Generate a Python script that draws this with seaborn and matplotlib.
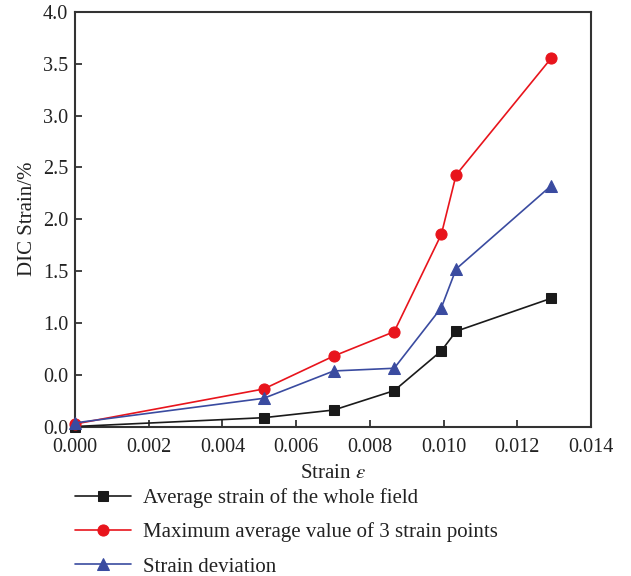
import matplotlib
matplotlib.use("Agg")
import matplotlib.pyplot as plt
import seaborn as sns
import pandas as pd

strain = [0.0, 0.00512, 0.00702, 0.00866, 0.00994, 0.01034, 0.01292]
avg_field = [0.0, 0.085, 0.159, 0.346, 0.73, 0.919, 1.237]
max_avg3 = [0.024, 0.362, 0.680, 0.915, 1.855, 2.428, 3.554]
deviation = [0.035, 0.272, 0.536, 0.562, 1.147, 1.520, 2.324]

series_names = ["Average strain of the whole field",
                "Maximum average value of 3 strain points",
                "Strain deviation"]
y_ticks = [0.0, 0.5, 1.0, 1.5, 2.0, 2.5, 3.0, 3.5, 4.0]
y_tick_labels = ["0.0", "0.0", "1.0", "1.5", "2.0", "2.5", "3.0", "3.5", "4.0"]
x_ticks = [0.000, 0.002, 0.004, 0.006, 0.008, 0.010, 0.012, 0.014]
x_tick_labels = ["0.000", "0.002", "0.004", "0.006", "0.008", "0.010", "0.012", "0.014"]

sns.set_style("ticks")
plt.rcParams["font.family"] = ["Liberation Serif", "DejaVu Serif"]
plt.rcParams["mathtext.fontset"] = "stix"

FS = 15
fig = plt.figure(figsize=(6.31, 5.76), dpi=100)
ax = fig.add_axes([75 / 631, 1 - 426.5 / 576, (591 - 75) / 631, (426.5 - 12) / 576])

styles = [("s", "#1a1a1a", 7.0), ("o", "#e8141c", 8.0), ("^", "#3a4ba0", 8.0)]
for yvals, name, (mk, col, ms) in zip([avg_field, max_avg3, deviation], series_names, styles):
    df = pd.DataFrame({"x": strain, "y": yvals})
    sns.lineplot(data=df, x="x", y="y", ax=ax, sort=False, marker=mk, color=col,
                 markersize=ms, markeredgecolor=col, linewidth=1.2, label=name,
                 clip_on=False, zorder=3)

ax.set_xlim(0, 0.014)
ax.set_ylim(0, 4.0)
ax.set_xticks(x_ticks)
ax.set_xticklabels(x_tick_labels)
ax.set_yticks(y_ticks)
ax.set_yticklabels(y_tick_labels)
ax.tick_params(direction="in", length=5, width=1.2, labelsize=FS - 0.5, colors="#222222",
               labelcolor="#222222", pad=5)
ax.tick_params(axis="x", pad=8)
for sp in ax.spines.values():
    sp.set_visible(True)
    sp.set_linewidth(1.5)
    sp.set_color("#333333")

ax.set_xlabel(r"Strain $\varepsilon$", fontsize=FS, color="#222222", labelpad=5)
ax.set_ylabel("DIC Strain/%", fontsize=FS, color="#222222", labelpad=4)

handles, labels = ax.get_legend_handles_labels()
ax.get_legend().remove()
fig.legend(handles, labels, loc="upper left", bbox_to_anchor=(75 / 631, 1 - 488 / 576),
           frameon=False, fontsize=FS, handlelength=2.7, handletextpad=0.55,
           labelspacing=0.7, borderaxespad=0, borderpad=0, labelcolor="#222222")

fig.savefig("out.png", dpi=100)
